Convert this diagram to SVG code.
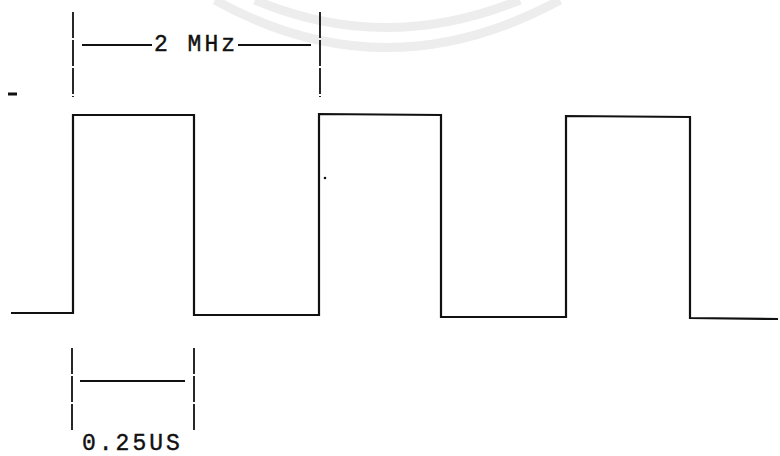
<svg xmlns="http://www.w3.org/2000/svg" width="780" height="456" viewBox="0 0 780 456">
<style>
.wm{fill:none;stroke:#ededed;stroke-width:9}
.wave{fill:none;stroke:#111;stroke-width:2.2;stroke-linejoin:miter}
.mark{fill:none;stroke:#111;stroke-width:1.8;stroke-dasharray:26 2}
.dim{fill:none;stroke:#111;stroke-width:2}
.lbl{font-family:"Liberation Mono","DejaVu Sans Mono",monospace;font-size:23px;letter-spacing:3px;fill:#111;stroke:#111;stroke-width:0.4}
</style>
<g id="watermark">
<path class="wm" d="M215,0 Q385,95 560,0"/>
<path class="wm" d="M255,0 Q385,55 520,0"/>
</g>
<g id="waveform">
<polyline class="wave" points="11,313 73,313 73,115 194,115 194,315 319,315 319,114 441,115 441,317 566,317 566,116 690,117 690,318 778,319"/>
<circle cx="325" cy="178" r="1.3" fill="#111"/>
<rect x="8" y="92.5" width="9" height="3" fill="#111"/>
</g>
<g id="period-marker">
<line class="mark" x1="73" y1="12" x2="73" y2="97"/>
<line class="mark" x1="320" y1="12" x2="320" y2="97"/>
<line class="dim" x1="82" y1="45" x2="152" y2="45"/>
<line class="dim" x1="238" y1="45" x2="311" y2="45"/>
<text class="lbl" x="154" y="51">2 MHz</text>
</g>
<g id="pulse-marker">
<line class="mark" x1="72" y1="348" x2="72" y2="432"/>
<line class="mark" x1="194" y1="348" x2="194" y2="432"/>
<line class="dim" x1="80" y1="381" x2="185" y2="381"/>
<text class="lbl" x="82" y="450">0.25US</text>
</g>
</svg>
